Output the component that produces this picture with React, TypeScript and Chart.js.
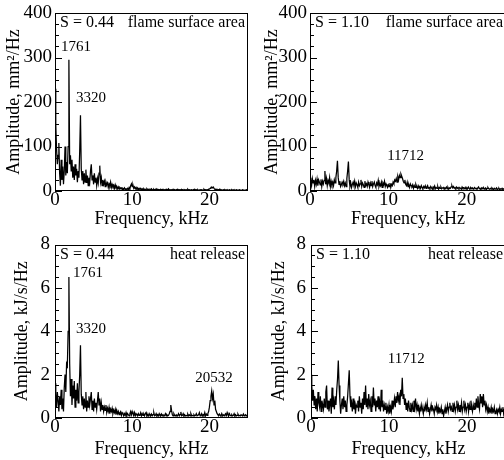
import React, { useEffect, useRef } from "react";
import { Chart, registerables } from "chart.js";

Chart.register(...registerables);

const FONT = "'Liberation Serif', 'Times New Roman', serif";
const FREQ_STEP_KHZ = 0.1; // FFT bin width
const X_MAX = 25;
const X_TICK_STEP = 10;

// Flame surface area spectrum, S = 0.44 (mm^2/Hz), one row per kHz
const fsaS044 = [
  230, 150, 95, 60, 80, 108, 40, 12, 70, 25,
  55, 15, 45, 100, 35, 65, 40, 100, 295, 60,
  80, 45, 70, 30, 55, 25, 60, 35, 50, 20,
  45, 30, 90, 170, 50, 25, 45, 15, 40, 20,
  48, 18, 35, 12, 30, 20, 45, 60, 25, 35,
  15, 40, 20, 30, 12, 28, 18, 40, 57, 20,
  30, 12, 25, 15, 22, 10, 20, 14, 18, 8,
  16, 12, 20, 8, 15, 10, 13, 6, 14, 8,
  10, 5, 9, 4, 8, 6, 7, 3, 6, 4,
  7, 3, 5, 4, 6, 3, 8, 5, 12, 16,
  10, 13, 6, 9, 5, 8, 4, 7, 3, 6,
  4, 6, 3, 5, 2, 5, 3, 4, 2, 5,
  3, 4, 2, 4, 3, 5, 2, 3, 4, 2,
  3, 5, 2, 4, 3, 3, 2, 4, 2, 3,
  4, 2, 3, 2, 4, 2, 3, 5, 2, 3,
  2, 3, 2, 4, 2, 3, 1, 3, 2, 4,
  2, 3, 2, 2, 4, 2, 3, 1, 3, 2,
  3, 2, 4, 2, 3, 2, 2, 3, 1, 3,
  2, 4, 2, 3, 2, 3, 1, 2, 3, 2,
  3, 2, 2, 4, 2, 3, 2, 3, 2, 4,
  4, 6, 8, 9, 7, 9, 6, 4, 3, 4,
  2, 3, 2, 4, 2, 3, 2, 2, 3, 2,
  3, 2, 2, 3, 1, 2, 3, 2, 2, 3,
  2, 2, 3, 1, 2, 3, 2, 2, 2, 3,
  2, 1, 2, 3, 2, 2, 1, 2, 3, 2,
  2,
];

// Flame surface area spectrum, S = 1.10 (mm^2/Hz)
const fsaS110 = [
  30, 22, 12, 28, 18, 25, 10, 24, 15, 27,
  12, 25, 20, 14, 26, 10, 22, 16, 24, 45,
  15, 28, 12, 24, 18, 30, 10, 22, 14, 20,
  12, 25, 18, 30, 45, 68, 30, 15, 22, 10,
  14, 20, 16, 22, 12, 18, 10, 28, 45, 66,
  25, 10, 18, 8, 15, 20, 12, 22, 10, 18,
  14, 8, 20, 12, 16, 25, 10, 18, 14, 8,
  22, 12, 16, 10, 20, 14, 8, 18, 12, 22,
  10, 16, 20, 12, 8, 18, 14, 24, 10, 16,
  12, 20, 8, 18, 14, 22, 10, 16, 12, 8,
  14, 10, 18, 8, 15, 12, 20, 16, 25, 22,
  28, 20, 32, 25, 35, 30, 38, 33, 28, 22,
  18, 25, 15, 12, 20, 10, 14, 8, 16, 12,
  10, 14, 6, 12, 8, 15, 10, 6, 12, 8,
  10, 6, 12, 8, 5, 10, 7, 12, 6, 9,
  12, 6, 8, 5, 10, 7, 4, 9, 6, 11,
  5, 8, 6, 10, 4, 8, 6, 9, 5, 7,
  8, 4, 7, 6, 9, 5, 8, 4, 7, 6,
  9, 12, 7, 10, 6, 8, 5, 9, 6, 8,
  5, 8, 6, 4, 9, 6, 7, 5, 8, 4,
  7, 5, 9, 6, 4, 8, 5, 7, 4, 6,
  8, 5, 6, 4, 7, 9, 5, 6, 3, 7,
  5, 8, 4, 6, 7, 3, 6, 8, 5, 4,
  6, 4, 7, 5, 3, 6, 4, 5, 7, 3,
  5, 6, 3, 5, 4, 6, 3, 5, 4, 6,
  5,
];

// Heat release spectrum, S = 0.44 (kJ/s/Hz)
const hrS044 = [
  1.6, 1.1, 0.5, 1.2, 0.8, 0.3, 1.0, 0.6, 1.3, 0.4,
  0.9, 0.3, 1.4, 2.0, 1.2, 2.5, 2.4, 4.0, 6.5, 2.5,
  1.0, 1.8, 0.6, 1.5, 0.9, 1.7, 0.5, 1.3, 0.8, 1.6,
  0.7, 1.2, 2.0, 3.35, 1.1, 0.6, 1.0, 0.4, 0.9, 0.5,
  1.2, 0.3, 0.8, 0.5, 1.0, 0.6, 0.9, 1.2, 0.4, 0.8,
  0.3, 0.9, 0.5, 0.7, 0.4, 0.8, 1.2, 0.6, 0.9, 0.3,
  0.7, 0.4, 0.6, 0.3, 0.5, 0.35, 0.6, 0.25, 0.45, 0.3,
  0.5, 0.2, 0.4, 0.3, 0.45, 0.2, 0.35, 0.25, 0.4, 0.15,
  0.35, 0.2, 0.3, 0.15, 0.25, 0.3, 0.12, 0.25, 0.2, 0.1,
  0.2, 0.12, 0.25, 0.1, 0.2, 0.15, 0.1, 0.2, 0.3, 0.15,
  0.3, 0.2, 0.12, 0.25, 0.1, 0.2, 0.15, 0.1, 0.2, 0.12,
  0.15, 0.25, 0.1, 0.2, 0.12, 0.18, 0.1, 0.2, 0.25, 0.1,
  0.15, 0.1, 0.2, 0.12, 0.1, 0.18, 0.1, 0.15, 0.25, 0.1,
  0.12, 0.2, 0.1, 0.15, 0.1, 0.2, 0.12, 0.1, 0.18, 0.1,
  0.15, 0.1, 0.12, 0.2, 0.1, 0.15, 0.1, 0.12, 0.2, 0.3,
  0.6, 0.35, 0.15, 0.1, 0.2, 0.12, 0.1, 0.15, 0.1, 0.12,
  0.2, 0.1, 0.15, 0.28, 0.1, 0.12, 0.2, 0.1, 0.15, 0.1,
  0.12, 0.1, 0.18, 0.1, 0.15, 0.1, 0.2, 0.1, 0.12, 0.1,
  0.15, 0.1, 0.12, 0.2, 0.1, 0.1, 0.15, 0.25, 0.1, 0.12,
  0.2, 0.1, 0.15, 0.12, 0.25, 0.1, 0.18, 0.12, 0.2, 0.3,
  0.5, 0.8, 1.0, 1.25, 0.9, 1.1, 0.6, 0.8, 0.4, 0.3,
  0.2, 0.15, 0.1, 0.18, 0.12, 0.1, 0.2, 0.1, 0.15, 0.1,
  0.15, 0.2, 0.12, 0.25, 0.15, 0.1, 0.2, 0.12, 0.1, 0.15,
  0.1, 0.12, 0.2, 0.1, 0.15, 0.1, 0.12, 0.18, 0.1, 0.12,
  0.1, 0.15, 0.12, 0.1, 0.18, 0.1, 0.12, 0.15, 0.1, 0.12,
  0.12,
];

// Heat release spectrum, S = 1.10 (kJ/s/Hz)
const hrS110 = [
  2.0, 1.5, 0.8, 1.3, 0.6, 1.0, 0.4, 0.9, 0.3, 1.2,
  0.7, 0.5, 1.0, 0.3, 0.8, 0.6, 0.4, 0.9, 0.5, 1.2,
  1.5, 0.4, 0.8, 0.3, 0.6, 0.9, 0.2, 1.4, 0.5, 0.8,
  0.4, 1.0, 0.6, 1.3, 1.8, 2.65, 1.5, 0.8, 0.2, 0.6,
  0.9, 0.4, 1.0, 0.5, 0.8, 0.3, 0.6, 1.0, 1.6, 2.2,
  1.0, 0.5, 0.7, 0.3, 0.9, 0.4, 0.8, 0.2, 0.6, 0.5,
  0.8, 0.3, 1.0, 0.5, 0.7, 0.2, 0.9, 0.4, 1.2, 0.6,
  1.5, 0.5, 0.9, 0.4, 1.1, 0.6, 0.8, 0.3, 1.0, 0.5,
  1.4, 0.6, 0.9, 0.3, 0.8, 0.5, 1.0, 0.4, 0.7, 0.3,
  1.3, 0.5, 0.8, 0.3, 0.6, 0.4, 0.7, 0.2, 0.5, 0.3,
  0.6, 0.2, 0.5, 0.3, 0.8, 0.4, 0.6, 0.9, 0.5, 1.0,
  0.7, 1.2, 0.8, 1.0, 0.6, 1.3, 1.0, 1.85, 0.9, 1.1,
  0.6, 0.9, 0.4, 0.7, 0.3, 0.8, 0.5, 0.3, 0.7, 0.4,
  0.6, 0.3, 0.8, 0.5, 0.9, 0.4, 0.6, 0.3, 0.5, 0.2,
  0.5, 0.3, 0.6, 0.4, 0.2, 0.5, 0.3, 0.6, 0.4, 0.7,
  0.3, 0.5, 0.2, 0.4, 0.6, 0.3, 0.5, 0.4, 0.2, 0.5,
  0.4, 0.6, 0.3, 0.5, 0.2, 0.4, 0.3, 0.5, 0.2, 0.4,
  0.1, 0.3, 0.5, 0.2, 0.4, 0.6, 0.3, 0.5, 0.7, 0.4,
  0.5, 0.3, 0.7, 0.4, 0.6, 0.3, 0.5, 0.8, 0.4, 0.6,
  0.3, 0.6, 0.4, 0.7, 0.3, 0.5, 0.8, 0.4, 0.6, 0.3,
  0.5, 0.7, 0.3, 0.6, 0.4, 0.8, 0.5, 0.3, 0.6, 0.4,
  0.7, 0.4, 0.9, 0.5, 1.0, 0.6, 0.4, 1.1, 0.7, 1.0,
  0.5, 1.1, 0.6, 0.8, 0.4, 0.6, 0.3, 0.5, 0.2, 0.4,
  0.3, 0.5, 0.2, 0.4, 0.3, 0.5, 0.2, 0.3, 0.4, 0.2,
  0.4, 0.3, 0.5, 0.2, 0.4, 0.3, 0.5, 0.2, 0.4, 0.3,
  0.3,
];

// Peak annotations: label text, frequency (kHz) and amplitude where the label sits
const peaksFsaS044 = [
  { text: "1761", f: 2.72, v: 324 },
  { text: "3320", f: 4.66, v: 209 },
];
const peaksFsaS110 = [{ text: "11712", f: 12.2, v: 79 }];
const peaksHrS044 = [
  { text: "1761", f: 4.27, v: 6.7 },
  { text: "3320", f: 4.66, v: 4.09 },
  { text: "20532", f: 20.6, v: 1.84 },
];
const peaksHrS110 = [{ text: "11712", f: 12.2, v: 2.7 }];

type Peak = { text: string; f: number; v: number };
type PanelCfg = {
  amps: number[];
  yMax: number;
  yStep: number;
  yTitle: string;
  sLabel: string;
  kindLabel: string;
  peaks: Peak[];
  left: number;
  top: number;
  width: number;
  padTop: number;
  padRight: number;
  xAxisH: number;
  yTitlePad: number;
  yTickPad: number;
};

const PANELS: PanelCfg[] = [
  {
    amps: fsaS044, yMax: 400, yStep: 100, yTitle: "Amplitude, mm²/Hz",
    sLabel: "S = 0.44", kindLabel: "flame surface area", peaks: peaksFsaS044,
    left: 0, top: 0, width: 260, padTop: 13, padRight: 12, xAxisH: 39, yTitlePad: 3, yTickPad: 3,
  },
  {
    amps: fsaS110, yMax: 400, yStep: 100, yTitle: "Amplitude, mm²/Hz",
    sLabel: "S = 1.10", kindLabel: "flame surface area", peaks: peaksFsaS110,
    left: 255, top: 0, width: 260, padTop: 13, padRight: 9, xAxisH: 39, yTitlePad: 6, yTickPad: 3,
  },
  {
    amps: hrS044, yMax: 8, yStep: 2, yTitle: "Amplitude, kJ/s/Hz",
    sLabel: "S = 0.44", kindLabel: "heat release", peaks: peaksHrS044,
    left: 0, top: 230, width: 260, padTop: 10, padRight: 12, xAxisH: 42, yTitlePad: 11, yTickPad: 5,
  },
  {
    amps: hrS110, yMax: 8, yStep: 2, yTitle: "Amplitude, kJ/s/Hz",
    sLabel: "S = 1.10", kindLabel: "heat release", peaks: peaksHrS110,
    left: 256, top: 230, width: 260, padTop: 10, padRight: 10, xAxisH: 42, yTitlePad: 12, yTickPad: 5,
  },
];

const PANEL_H = 230;

function makeDecor(cfg: PanelCfg) {
  return {
    id: "decor",
    afterDatasetsDraw(chart: any) {
      const { ctx, chartArea: a, scales } = chart;
      const xs = scales.x;
      const ys = scales.y;
      ctx.save();
      ctx.strokeStyle = "#000";
      ctx.lineWidth = 1;
      // inward ticks on the left axis (major + 3 minor between)
      const minor = cfg.yStep / 4;
      const n = Math.round(cfg.yMax / minor);
      for (let k = 0; k <= n; k++) {
        const v = k * minor;
        const isMajor = k % 4 === 0;
        const py = Math.round(ys.getPixelForValue(v)) + 0.5;
        ctx.beginPath();
        ctx.moveTo(a.left, py);
        ctx.lineTo(a.left + (isMajor ? 7 : 4), py);
        ctx.stroke();
      }
      // frame
      const l = Math.round(a.left) + 0.5;
      const t = Math.round(a.top) + 0.5;
      const r = Math.round(a.right) - 0.5;
      const b = Math.round(a.bottom) - 0.5;
      ctx.strokeRect(l, t, r - l, b - t);
      // texts
      ctx.fillStyle = "#000";
      ctx.font = `16px ${FONT}`;
      ctx.textBaseline = "alphabetic";
      ctx.textAlign = "left";
      ctx.fillText(cfg.sLabel, a.left + 5, a.top + 14);
      ctx.textAlign = "right";
      ctx.fillText(cfg.kindLabel, a.right - 3, a.top + 14);
      ctx.font = `15px ${FONT}`;
      ctx.textAlign = "center";
      ctx.textBaseline = "middle";
      cfg.peaks.forEach((p) => {
        ctx.fillText(p.text, xs.getPixelForValue(p.f), ys.getPixelForValue(p.v));
      });
      ctx.restore();
    },
  };
}

function Panel({ cfg }: { cfg: PanelCfg }) {
  const ref = useRef<HTMLCanvasElement | null>(null);
  useEffect(() => {
    if (!ref.current) return;
    const points = cfg.amps.map((v, i) => ({ x: i * FREQ_STEP_KHZ, y: v }));
    const chart = new Chart(ref.current, {
      type: "line",
      data: {
        datasets: [
          {
            data: points,
            borderColor: "#000",
            borderWidth: 1.25,
            pointRadius: 0,
            tension: 0,
            fill: false,
          },
        ],
      },
      options: {
        animation: false,
        responsive: false,
        devicePixelRatio: 1,
        events: [],
        layout: { padding: { top: cfg.padTop, right: cfg.padRight, bottom: 0, left: 0 } },
        plugins: { legend: { display: false }, tooltip: { enabled: false } },
        scales: {
          x: {
            type: "linear",
            min: 0,
            max: X_MAX,
            afterBuildTicks: (s: any) => {
              s.ticks = s.ticks.filter((t: any) => t.value % X_TICK_STEP === 0);
            },
            afterFit: (s: any) => {
              s.height = cfg.xAxisH;
            },
            grid: { display: false, drawTicks: false },
            border: { display: false },
            ticks: {
              stepSize: X_TICK_STEP,
              color: "#000",
              padding: 0,
              maxRotation: 0,
              autoSkip: false,
              font: { family: FONT, size: 19, lineHeight: 1 },
            },
            title: {
              display: true,
              text: "Frequency, kHz",
              color: "#000",
              padding: { top: 0, bottom: 0 },
              font: { family: FONT, size: 18, lineHeight: 1.2 },
            },
          },
          y: {
            type: "linear",
            min: 0,
            max: cfg.yMax,
            afterFit: (s: any) => {
              s.width = 55;
            },
            grid: { display: false, drawTicks: false },
            border: { display: false },
            ticks: {
              stepSize: cfg.yStep,
              color: "#000",
              padding: cfg.yTickPad,
              font: { family: FONT, size: 19, lineHeight: 1 },
            },
            title: {
              display: true,
              text: cfg.yTitle,
              color: "#000",
              padding: { top: cfg.yTitlePad, bottom: 0 },
              font: { family: FONT, size: 18, lineHeight: 1.2 },
            },
          },
        },
      },
      plugins: [makeDecor(cfg)],
    } as any);
    return () => chart.destroy();
  }, [cfg]);
  return (
    <canvas
      ref={ref}
      width={cfg.width}
      height={PANEL_H}
      style={{
        position: "absolute",
        left: cfg.left,
        top: cfg.top,
        width: cfg.width,
        height: PANEL_H,
        display: "block",
      }}
    />
  );
}

export default function App() {
  return (
    <div
      style={{
        position: "absolute",
        left: 0,
        top: 0,
        width: 504,
        height: 460,
        overflow: "hidden",
        background: "#fff",
      }}
    >
      {PANELS.map((cfg, i) => (
        <Panel key={i} cfg={cfg} />
      ))}
    </div>
  );
}
